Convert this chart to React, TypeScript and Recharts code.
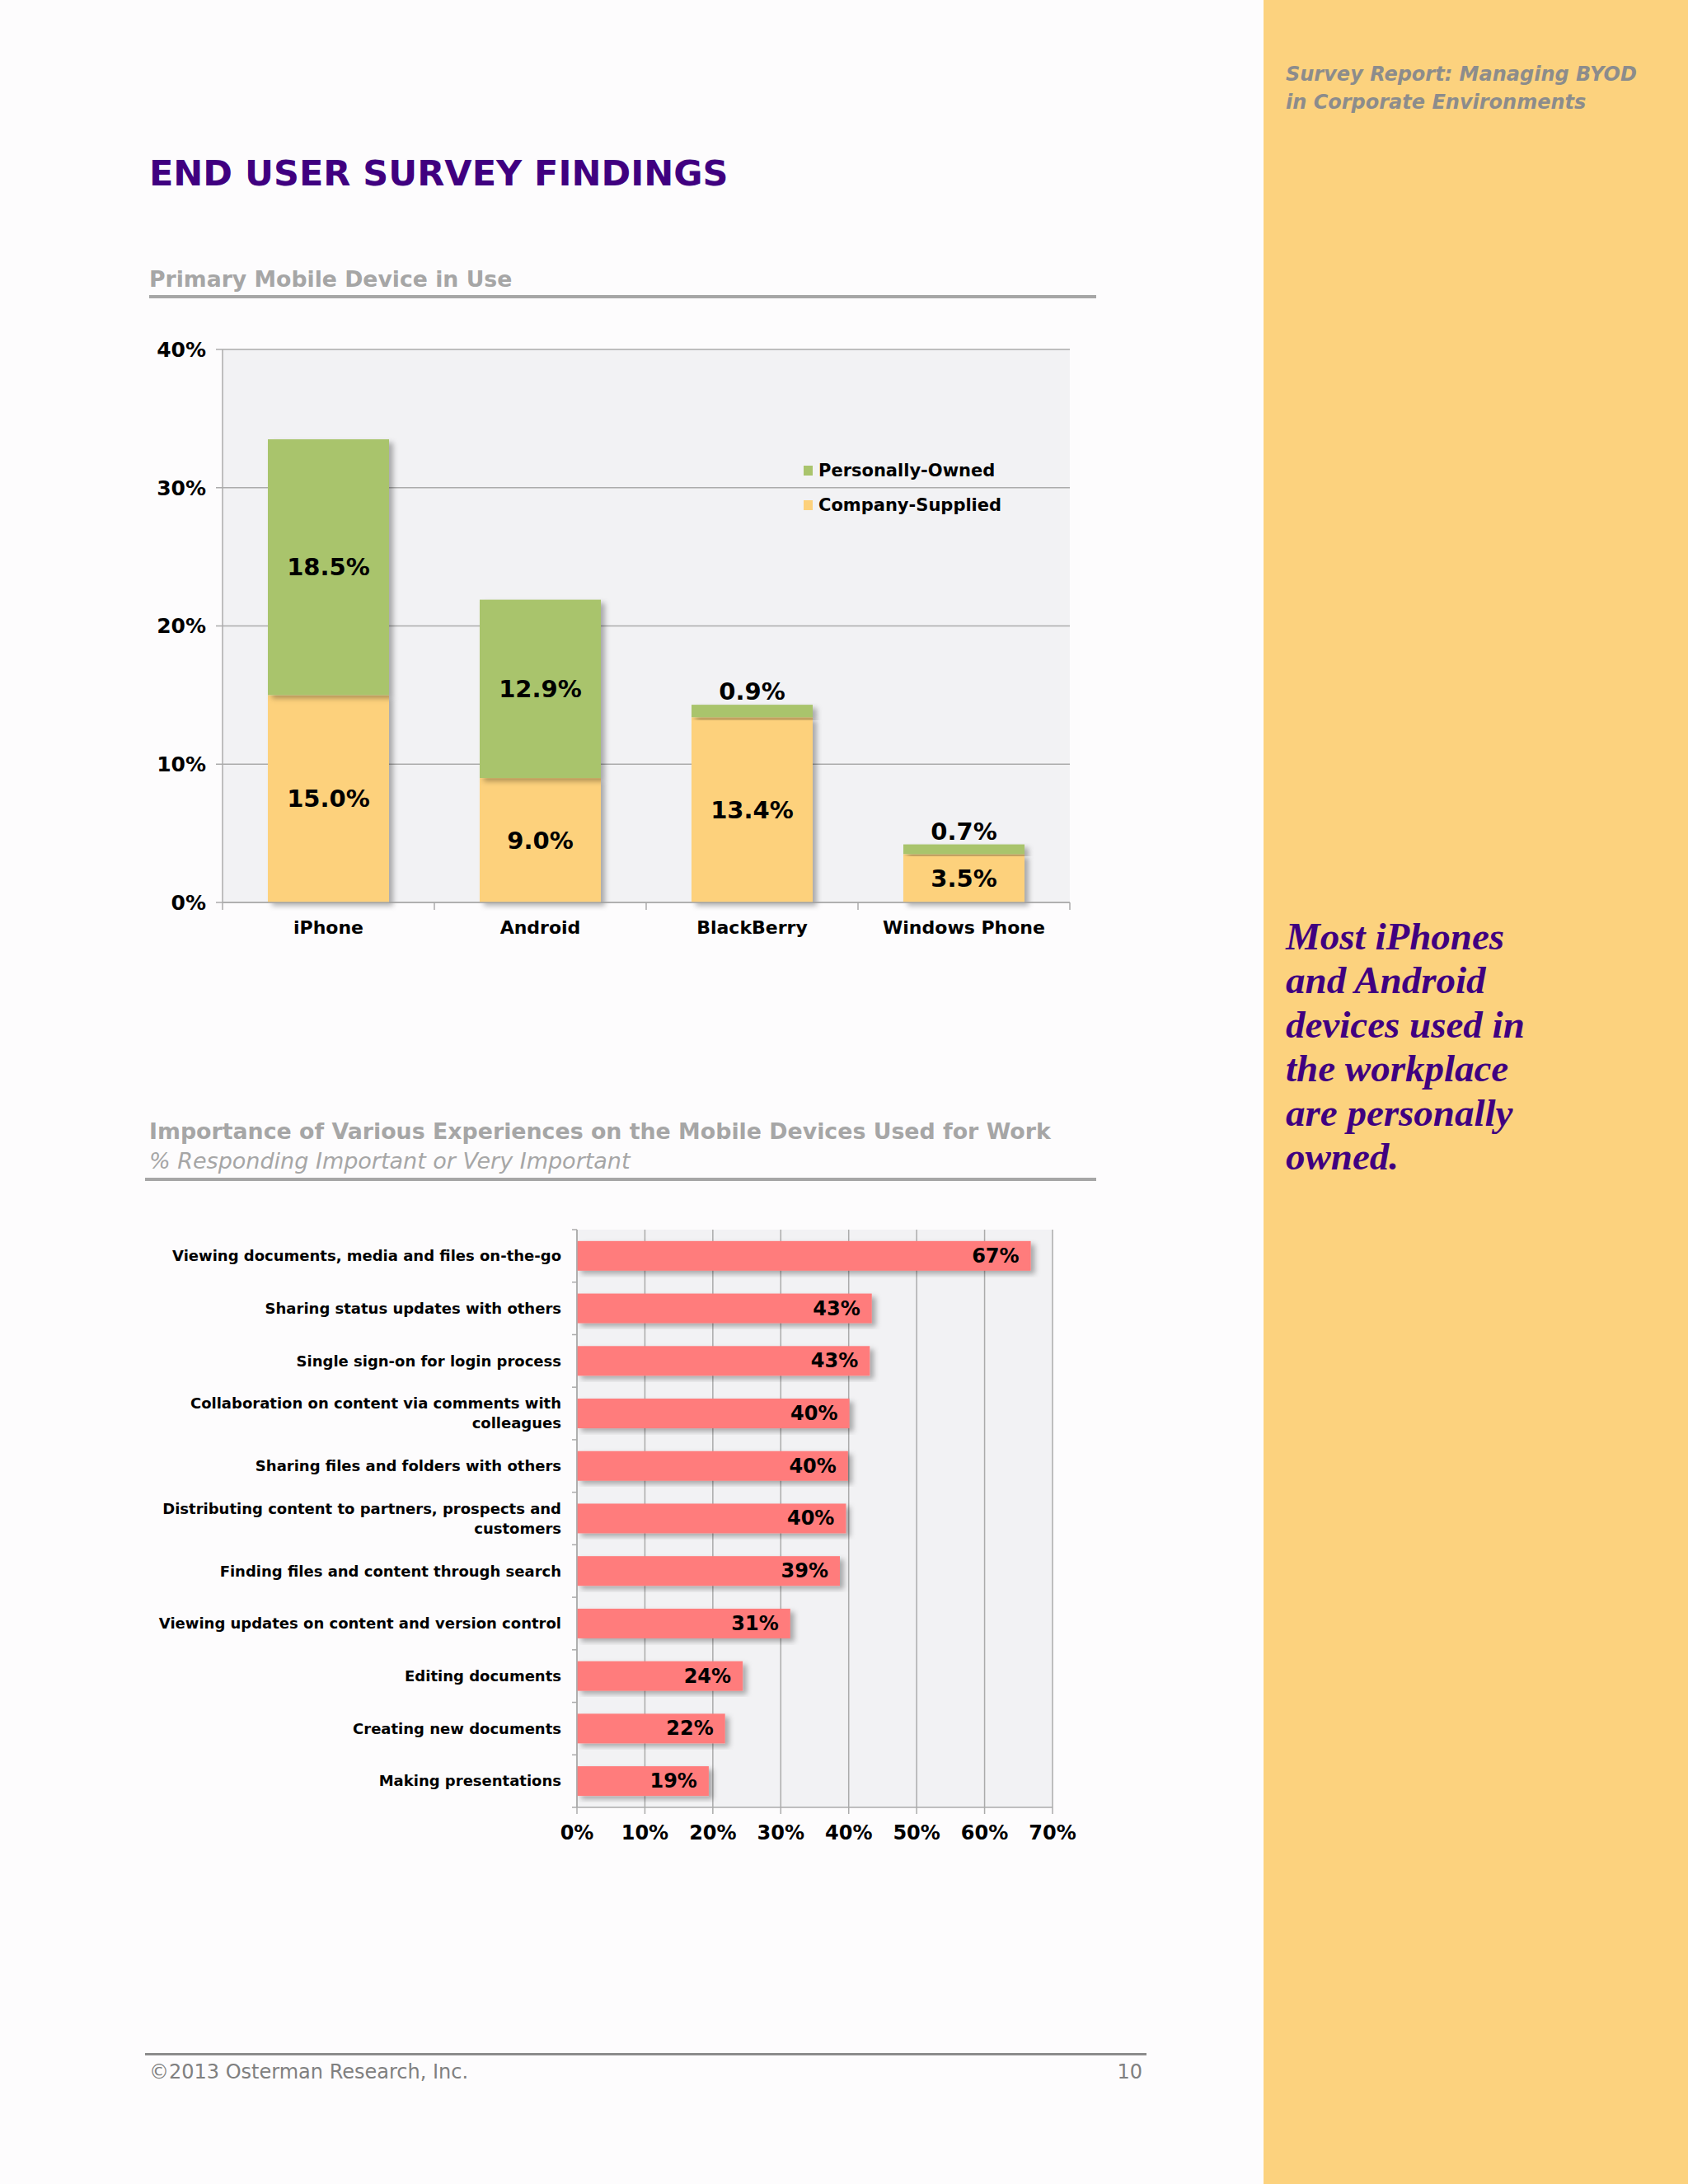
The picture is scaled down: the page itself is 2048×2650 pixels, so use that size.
import React from 'react';
import {
	BarChart,
	Bar,
	XAxis,
	YAxis,
	CartesianGrid,
	Legend,
	LabelList,
} from 'recharts';

// primary device chart
const devices = ['iPhone', 'Android', 'BlackBerry', 'Windows Phone'];
const companySupplied = [15.0, 9.0, 13.4, 3.5];
const personallyOwned = [18.5, 12.9, 0.9, 0.7];
const deviceTicks = [0, 10, 20, 30, 40];

// importance chart
const experiences = [
	'Viewing documents, media and files on-the-go',
	'Sharing status updates with others',
	'Single sign-on for login process',
	'Collaboration on content via comments with colleagues',
	'Sharing files and folders with others',
	'Distributing content to partners, prospects and customers',
	'Finding files and content through search',
	'Viewing updates on content and version control',
	'Editing documents',
	'Creating new documents',
	'Making presentations',
];
const importance = [66.8, 43.4, 43.1, 40.1, 39.9, 39.6, 38.7, 31.4, 24.4, 21.8, 19.4];
const importanceTicks = [0, 10, 20, 30, 40, 50, 60, 70];

const quoteLines = [
	'Most iPhones',
	'and Android',
	'devices used in',
	'the workplace',
	'are personally',
	'owned.',
];

const SANS = '"DejaVu Sans", Verdana, sans-serif';
const SERIF = '"Liberation Serif", "DejaVu Serif", serif';
const PURPLE = '#400080';
const GREEN = '#A9C46C';
const YELLOW = '#FDD17B';
const SALMON = '#FF7C7C';
const GRID = '#ABABAB';
const PLOT_BG = '#F2F2F4';

// top chart geometry
const TOP_W = 1200;
const TOP_H = 780;
const TOP_MARGIN = { top: 24, right: 32, bottom: 25, left: 20 };
const TOP_YAXIS_W = 120;
const TOP_XAXIS_H = 60;
const TOP_TICK_GAP = 22;
const DEVICE_BAND =
	(TOP_W - TOP_MARGIN.left - TOP_MARGIN.right - TOP_YAXIS_W) / devices.length;

// bottom chart geometry
const BOT_W = 1180;
const BOT_H = 800;
const BOT_MARGIN = { top: 22, right: 53, bottom: 27, left: 0 };
const BOT_YAXIS_W = 550;
const BOT_XAXIS_H = 50;
const BOT_TICK_GAP = 19;
const EXP_BAND =
	(BOT_H - BOT_MARGIN.top - BOT_MARGIN.bottom - BOT_XAXIS_H) / experiences.length;

const deviceData = devices.map((name, i) => ({
	name,
	company: companySupplied[i],
	owned: personallyOwned[i],
}));

const experienceData = experiences.map((name, i) => ({
	name,
	value: importance[i],
}));

function wrapLabel(text: string, maxChars: number) {
	const words = text.split(' ');
	const lines: string[] = [];
	let cur = '';
	words.forEach((w) => {
		const next = cur ? cur + ' ' + w : w;
		if (next.length > maxChars && cur) {
			lines.push(cur);
			cur = w;
		} else {
			cur = next;
		}
	});
	if (cur) lines.push(cur);
	return lines;
}

const ShadowRect = (props: any) => {
	const { x, y, width, height, fill } = props;
	if (!height || !width) return null;
	return (
		<rect
			x={x}
			y={y}
			width={width}
			height={height}
			fill={fill}
			filter="url(#barShadow)"
		/>
	);
};

const SegmentLabel = (props: any) => {
	const { x, y, width, height, value } = props;
	// small slices get their label above the bar
	const cy = height < 40 ? y - 16 : y + height / 2;
	return (
		<text
			x={x + width / 2}
			y={cy}
			textAnchor="middle"
			dominantBaseline="central"
			fontFamily={SANS}
			fontSize={29}
			fontWeight="bold"
			fill="#000"
		>
			{Number(value).toFixed(1)}%
		</text>
	);
};

const DeviceTick = (props: any) => {
	const { x, y, payload, index } = props;
	const axisY = y - TOP_TICK_GAP;
	const half = DEVICE_BAND / 2;
	return (
		<g>
			{index === 0 && (
				<line x1={x - half} x2={x - half} y1={axisY} y2={axisY + 9} stroke={GRID} strokeWidth={1.5} />
			)}
			<line x1={x + half} x2={x + half} y1={axisY} y2={axisY + 9} stroke={GRID} strokeWidth={1.5} />
			<text
				x={x}
				y={y}
				dy="0.71em"
				textAnchor="middle"
				fontFamily={SANS}
				fontSize={22}
				fontWeight="bold"
				fill="#000"
			>
				{payload.value}
			</text>
		</g>
	);
};

const ExperienceTick = (props: any) => {
	const { x, y, payload, index } = props;
	const lines = wrapLabel(payload.value, 47);
	const axisX = x + BOT_TICK_GAP;
	const half = EXP_BAND / 2;
	return (
		<g>
			<line x1={axisX - 6} x2={axisX} y1={y - half} y2={y - half} stroke={GRID} strokeWidth={1.5} />
			{index === experiences.length - 1 && (
				<line x1={axisX - 6} x2={axisX} y1={y + half} y2={y + half} stroke={GRID} strokeWidth={1.5} />
			)}
			<text
				textAnchor="end"
				fontFamily={SANS}
				fontSize={18}
				fontWeight="bold"
				fill="#000"
			>
				{lines.map((ln, i) => (
					<tspan key={i} x={x} y={y + (i - (lines.length - 1) / 2) * 24} dy="0.35em">
						{ln}
					</tspan>
				))}
			</text>
		</g>
	);
};

const ValueLabel = (props: any) => {
	const { x, y, width, height, value } = props;
	return (
		<text
			x={x + width - 14}
			y={y + height / 2}
			textAnchor="end"
			dominantBaseline="central"
			fontFamily={SANS}
			fontSize={24}
			fontWeight="bold"
			fill="#000"
		>
			{Math.round(value)}%
		</text>
	);
};

const DeviceLegend = (props: any) => {
	const items = [...(props.payload || [])].reverse();
	return (
		<div>
			{items.map((it: any) => (
				<div
					key={it.value}
					style={{
						display: 'flex',
						alignItems: 'center',
						height: 42,
						fontFamily: SANS,
						fontSize: 21,
						fontWeight: 'bold',
						color: '#000',
					}}
				>
					<span
						style={{
							display: 'inline-block',
							width: 11,
							height: 12,
							background: it.color,
							marginRight: 7,
						}}
					/>
					{it.value}
				</div>
			))}
		</div>
	);
};

export default function App() {
	const abs = (left: number, top: number): React.CSSProperties => ({
		position: 'absolute',
		left,
		top,
		whiteSpace: 'nowrap',
	});

	return (
		<div
			style={{
				position: 'absolute',
				left: 0,
				top: 0,
				width: 2048,
				height: 2650,
				background: '#FDFCFD',
				overflow: 'hidden',
			}}
		>
			<svg width={0} height={0} style={{ position: 'absolute' }}>
				<defs>
					<filter id="barShadow" x="-10%" y="-10%" width="130%" height="130%">
						<feDropShadow dx={5} dy={4} stdDeviation={3} floodColor="#000" floodOpacity={0.3} />
					</filter>
				</defs>
			</svg>

			{/* side panel */}
			<div
				style={{
					position: 'absolute',
					left: 1533,
					top: 0,
					width: 515,
					height: 2650,
					background: '#FCD27E',
				}}
			/>
			<div
				style={{
					...abs(1560, 73),
					fontFamily: SANS,
					fontSize: 24,
					lineHeight: '34px',
					fontWeight: 'bold',
					fontStyle: 'italic',
					color: '#8C8C8C',
				}}
			>
				Survey Report: Managing BYOD
				<br />
				in Corporate Environments
			</div>
			<div
				style={{
					...abs(1560, 1110),
					fontFamily: SERIF,
					fontSize: 47,
					lineHeight: '53.4px',
					fontWeight: 'bold',
					fontStyle: 'italic',
					color: PURPLE,
				}}
			>
				{quoteLines.map((l) => (
					<div key={l}>{l}</div>
				))}
			</div>

			{/* headings */}
			<div
				style={{
					...abs(181, 189),
					fontFamily: SANS,
					fontSize: 43,
					lineHeight: '43px',
					fontWeight: 'bold',
					color: PURPLE,
				}}
			>
				END USER SURVEY FINDINGS
			</div>
			<div
				style={{
					...abs(181, 325),
					fontFamily: SANS,
					fontSize: 26.7,
					lineHeight: '27px',
					fontWeight: 'bold',
					color: '#A6A6A6',
				}}
			>
				Primary Mobile Device in Use
			</div>
			<div style={{ position: 'absolute', left: 181, top: 358, width: 1149, height: 4, background: '#A6A6A6' }} />

			<div style={{ position: 'absolute', left: 130, top: 400 }}>
				<BarChart
					width={TOP_W}
					height={TOP_H}
					data={deviceData}
					margin={TOP_MARGIN}
					barCategoryGap="21.4%"
				>
					<CartesianGrid vertical={false} stroke={GRID} strokeWidth={1.5} fill={PLOT_BG} />
					<XAxis
						dataKey="name"
						height={TOP_XAXIS_H}
						axisLine={{ stroke: GRID, strokeWidth: 1.5 }}
						tickLine={false}
						tickSize={0}
						tickMargin={TOP_TICK_GAP}
						tick={<DeviceTick />}
						interval={0}
					/>
					<YAxis
						width={TOP_YAXIS_W}
						domain={[0, 40]}
						ticks={deviceTicks}
						tickFormatter={(v) => `${v}%`}
						axisLine={{ stroke: GRID, strokeWidth: 1.5 }}
						tickLine={{ stroke: GRID, strokeWidth: 1.5 }}
						tickSize={8}
						tickMargin={12}
						tick={{ fontFamily: SANS, fontSize: 25, fontWeight: 'bold', fill: '#000' }}
					/>
					<Legend
						layout="vertical"
						align="center"
						verticalAlign="middle"
						content={<DeviceLegend />}
						wrapperStyle={{ left: 845, top: 150, width: 'auto' }}
					/>
					<Bar
						dataKey="company"
						name="Company-Supplied"
						stackId="a"
						fill={YELLOW}
						shape={<ShadowRect />}
						isAnimationActive={false}
					>
						<LabelList dataKey="company" content={<SegmentLabel />} />
					</Bar>
					<Bar
						dataKey="owned"
						name="Personally-Owned"
						stackId="a"
						fill={GREEN}
						shape={<ShadowRect />}
						isAnimationActive={false}
					>
						<LabelList dataKey="owned" content={<SegmentLabel />} />
					</Bar>
				</BarChart>
			</div>

			<div
				style={{
					...abs(181, 1359),
					fontFamily: SANS,
					fontSize: 26.8,
					lineHeight: '27px',
					fontWeight: 'bold',
					color: '#A6A6A6',
				}}
			>
				Importance of Various Experiences on the Mobile Devices Used for Work
			</div>
			<div
				style={{
					...abs(181, 1395),
					fontFamily: SANS,
					fontSize: 27,
					lineHeight: '27px',
					fontStyle: 'italic',
					color: '#A6A6A6',
				}}
			>
				% Responding Important or Very Important
			</div>
			<div style={{ position: 'absolute', left: 176, top: 1429, width: 1154, height: 4, background: '#A6A6A6' }} />

			<div style={{ position: 'absolute', left: 150, top: 1470 }}>
				<BarChart
					width={BOT_W}
					height={BOT_H}
					data={experienceData}
					layout="vertical"
					margin={BOT_MARGIN}
					barCategoryGap="21.7%"
				>
					<CartesianGrid horizontal={false} stroke={GRID} strokeWidth={1.5} fill={PLOT_BG} />
					<XAxis
						type="number"
						domain={[0, 70]}
						ticks={importanceTicks}
						tickFormatter={(v) => `${v}%`}
						height={BOT_XAXIS_H}
						axisLine={{ stroke: GRID, strokeWidth: 1.5 }}
						tickLine={{ stroke: GRID, strokeWidth: 1.5 }}
						tickSize={8}
						tickMargin={14}
						tick={{ fontFamily: SANS, fontSize: 24, fontWeight: 'bold', fill: '#000' }}
					/>
					<YAxis
						type="category"
						dataKey="name"
						width={BOT_YAXIS_W}
						axisLine={{ stroke: GRID, strokeWidth: 1.5 }}
						tickLine={false}
						tickSize={0}
						tickMargin={BOT_TICK_GAP}
						tick={<ExperienceTick />}
						interval={0}
					/>
					<Bar
						dataKey="value"
						fill={SALMON}
						shape={<ShadowRect />}
						isAnimationActive={false}
					>
						<LabelList dataKey="value" content={<ValueLabel />} />
					</Bar>
				</BarChart>
			</div>

			{/* footer */}
			<div style={{ position: 'absolute', left: 176, top: 2491, width: 1215, height: 3, background: '#8C8C8C' }} />
			<div
				style={{
					...abs(181, 2502),
					fontFamily: SANS,
					fontSize: 24,
					lineHeight: '24px',
					color: '#808080',
				}}
			>
				©2013 Osterman Research, Inc.
			</div>
			<div
				style={{
					...abs(1300, 2502),
					width: 86,
					textAlign: 'right',
					fontFamily: SANS,
					fontSize: 24,
					lineHeight: '24px',
					color: '#808080',
				}}
			>
				10
			</div>
		</div>
	);
}
